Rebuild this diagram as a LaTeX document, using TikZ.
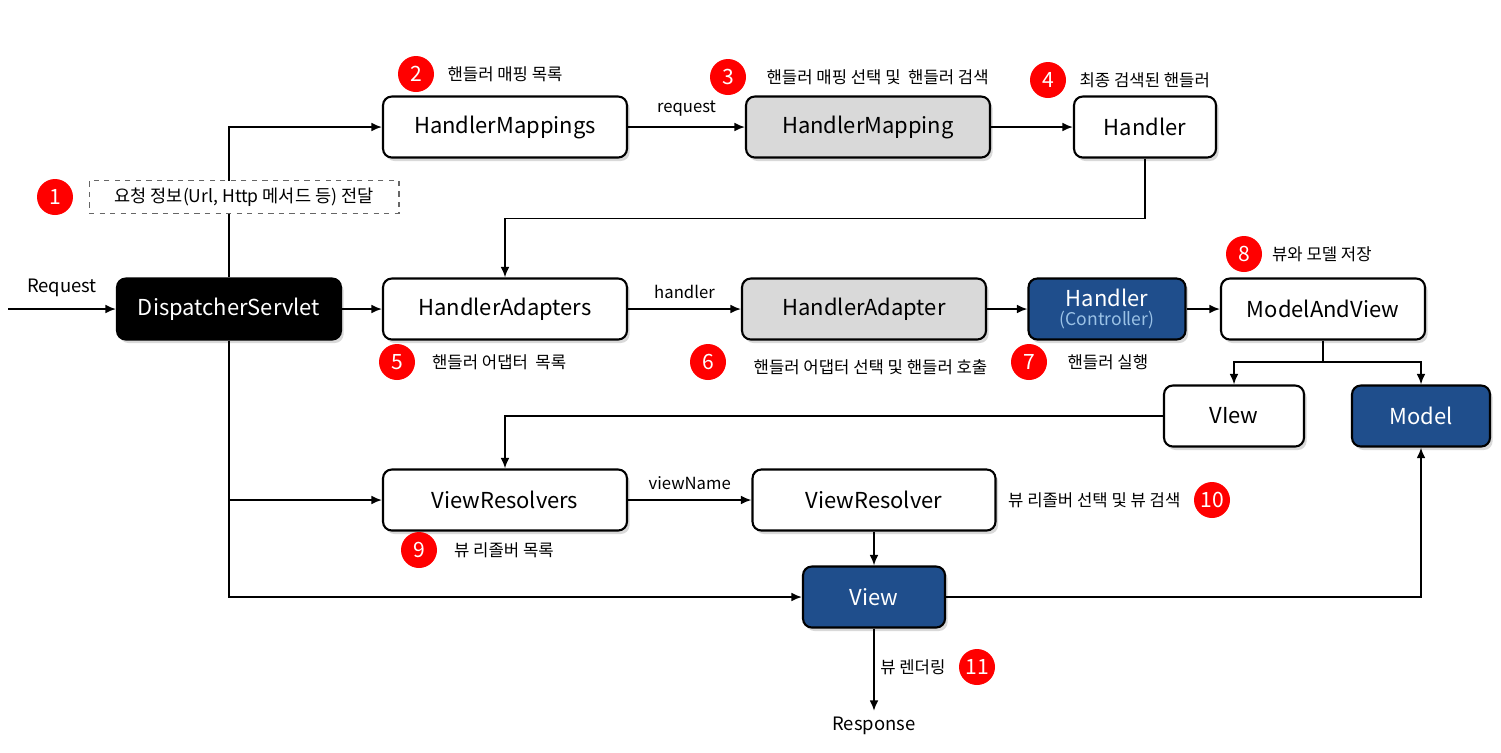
\documentclass[tikz,border=0pt]{standalone}
\usepackage{fontspec}
\setmainfont{Noto Sans CJK KR}
\usetikzlibrary{arrows.meta,shadows}
\definecolor{boxblue}{RGB}{31,78,140}
\definecolor{boxgray}{RGB}{217,217,217}
\definecolor{ctrlblue}{RGB}{155,194,230}
\begin{document}
\begin{tikzpicture}[x=0.02cm,y=-0.02cm,
		box/.style={draw,fill=white,line width=1.2pt,rounded corners=5pt,minimum height=1.22cm,inner sep=2pt,
			font=\fontsize{12.5}{14}\selectfont,
			drop shadow={shadow xshift=1.5pt,shadow yshift=-2pt,opacity=0.3}},
		graybox/.style={box,fill=boxgray},
		bluebox/.style={box,fill=boxblue,text=white},
		num/.style={circle,fill=red,text=white,minimum size=0.72cm,inner sep=0pt,font=\fontsize{12}{12}\selectfont},
		note/.style={font=\fontsize{9.5}{11}\selectfont},
		lbl/.style={font=\fontsize{9.5}{11}\selectfont},
		flow/.style={line width=1pt,-{Latex[length=6pt,width=5pt]}}]
		\useasboundingbox (0,0) rectangle (1501,752);
		% boxes
		\node[box,minimum width=4.88cm] (mappings) at (505,127) {HandlerMappings};
		\node[graybox,minimum width=4.88cm] (mapping) at (868,127) {HandlerMapping};
		\node[box,minimum width=2.84cm] (handler) at (1145,127) {Handler};
		\node[box,fill=black,text=white,minimum width=4.48cm] (ds) at (229,309) {DispatcherServlet};
		\node[box,minimum width=4.88cm] (adapters) at (505,309) {HandlerAdapters};
		\node[graybox,minimum width=4.88cm] (adapter) at (864,309) {HandlerAdapter};
		\node[bluebox,minimum width=3.14cm,align=center] (ctrl) at (1107,309) {Handler\\[-3pt]{\fontsize{10}{11}\selectfont\color{ctrlblue}(Controller)}};
		\node[box,minimum width=4.08cm] (mav) at (1323,309) {ModelAndView};
		\node[box,minimum width=2.8cm] (vname) at (1234,416) {VIew};
		\node[bluebox,minimum width=2.76cm] (model) at (1421,416) {Model};
		\node[box,minimum width=4.88cm] (resolvers) at (505,500) {ViewResolvers};
		\node[box,minimum width=4.86cm] (resolver) at (874,500) {ViewResolver};
		\node[bluebox,minimum width=2.84cm] (view) at (874,597) {View};
		\node[lbl,font=\fontsize{10.5}{12}\selectfont] (resp) at (874,726) {Response};
		\coordinate (in) at (8,309);
		\coordinate (split) at (1323,362);
		% connectors
		\draw[flow] (in) -- (ds.west) node[font=\fontsize{10.5}{12}\selectfont,midway,above=3pt] (req) {Request};
		\draw[flow] (ds.north) |- (mappings.west);
		\draw[flow] (mappings) -- (mapping) node[lbl,midway,above=2pt] (reqlbl) {request};
		\draw[flow] (mapping) -- (handler);
		\draw[flow] (handler.south) -- ++(0,60) -| (adapters.north);
		\draw[flow] (ds) -- (adapters);
		\draw[flow] (adapters) -- (adapter) node[lbl,midway,above=2pt] (hlbl) {handler};
		\draw[flow] (adapter) -- (ctrl);
		\draw[flow] (ctrl) -- (mav);
		\draw[line width=1pt] (mav.south) -- (split);
		\draw[flow] (split) -| (vname.north);
		\draw[flow] (split) -| (model.north);
		\draw[flow] (vname.west) -| (resolvers.north);
		\draw[flow] (ds.south) |- (resolvers.west);
		\draw[flow] (ds.south) |- (view.west);
		\draw[flow] (resolvers) -- (resolver) node[lbl,midway,above=2pt] (vnlbl) {viewName};
		\draw[flow] (resolver) -- (view);
		\draw[flow] (view.east) -| (model.south);
		\draw[flow] (view.south) -- (resp.north);
		% dashed note on the line
		\node[font=\fontsize{10}{12}\selectfont,draw=gray!80!black,dashed,fill=white,line width=0.6pt,minimum width=6.2cm,minimum height=0.66cm] (info) at (244,197) {요청 정보(Url, Http 메서드 등) 전달};
		% numbers and notes
		\node[num] (n1) at (55,197) {1};
		\node[num] (n2) at (416,74) {2};
		\node[note,right=4pt] (t2) at (n2.east) {핸들러 매핑 목록};
		\node[num] (n3) at (728,77) {3};
		\node[note,right=8pt] (t3) at (n3.east) {핸들러 매핑 선택 및 \ 핸들러 검색};
		\node[num] (n4) at (1048,80) {4};
		\node[note,right=4pt] (t4) at (n4.east) {최종 검색된 핸들러};
		\node[num] (n5) at (397,362) {5};
		\node[note,right=6pt] (t5) at (n5.east) {핸들러 어댑터 \ 목록};
		\node[num] (n6) at (708,362) {6};
		\node[note,right=12pt,yshift=-3pt] (t6) at (n6.east) {핸들러 어댑터 선택 및 핸들러 호출};
		\node[num] (n7) at (1029,362) {7};
		\node[note,right=8pt] (t7) at (n7.east) {핸들러 실행};
		\node[num] (n8) at (1244,254) {8};
		\node[note,right=2pt] (t8) at (n8.east) {뷰와 모델 저장};
		\node[num] (n9) at (419,550) {9};
		\node[note,right=6pt] (t9) at (n9.east) {뷰 리졸버 목록};
		\node[num] (n10) at (1212,500) {10};
		\node[note,left=4pt] (t10) at (n10.west) {뷰 리졸버 선택 및 뷰 검색};
		\node[num] (n11) at (977,667) {11};
		\node[note,left=4pt] (t11) at (n11.west) {뷰 렌더링};
	\end{tikzpicture}
\end{document}
